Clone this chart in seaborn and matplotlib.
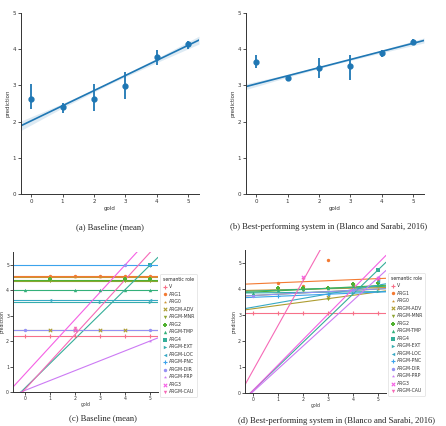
import numpy as np
import matplotlib
matplotlib.use("Agg")
import matplotlib.pyplot as plt
import seaborn as sns

# ---- top panels: mean prediction per gold score with CI, plus regression fit
gold = [0, 1, 2, 3, 4, 5]

base_mean = [2.63, 2.40, 2.63, 2.98, 3.78, 4.13]
base_lo = [2.35, 2.24, 2.30, 2.62, 3.57, 4.00]
base_hi = [3.04, 2.51, 3.04, 3.38, 3.99, 4.24]
base_fit = (2.02, 0.418)  # intercept, slope

best_mean = [3.66, 3.20, 3.47, 3.53, 3.90, 4.21]
best_lo = [3.47, 3.11, 3.20, 3.14, 3.78, 4.13]
best_hi = [3.83, 3.27, 3.76, 3.83, 3.99, 4.28]
best_fit = (3.04, 0.225)

band_x = [-0.32, 1.0, 2.5, 4.0, 5.34]
base_band = [0.13, 0.06, 0.03, 0.06, 0.11]
best_band = [0.08, 0.04, 0.02, 0.04, 0.07]

# ---- bottom panels: per semantic role
roles = ["V", "ARG1", "ARG0", "ARGM-ADV", "ARGM-MNR", "ARG2", "ARGM-TMP", "ARG4",
         "ARGM-EXT", "ARGM-LOC", "ARGM-PNC", "ARGM-DIR", "ARGM-PRP", "ARG3", "ARGM-CAU"]
role_markers = ["+", "o", "*", "x", "v", "P", "^", "s", ">", "<",
                "+", "o", "*", "x", "v"]

c_intercept = [2.2, 4.55, 4.52, 2.42, 4.37, 4.39, 4.02, 0.15, 3.55, 3.6, 5.0, 2.42, 0.06, 0.7, 0.1]
c_slope = [0, 0, 0, 0, 0, 0, 0, 0.97, 0, 0, 0, 0, 0.39, 1.075, 1.08]
c_px = [[0, 1, 2, 3, 4, 5], [1, 2, 3, 4, 5], [1, 2, 3, 4, 5], [1, 2, 3, 4], [1, 4, 5],
        [1, 4, 5], [0, 2, 3, 4, 5], [5], [3, 5], [1, 5], [5], [0, 4, 5], [5], [2], [2]]
c_py = [[2.2] * 6, [4.55] * 5, [4.52] * 5, [2.42] * 4, [4.35, 4.35, 4.35],
        [4.42, 4.42, 4.42], [4.02] * 5, [5.0], [3.55, 3.55], [3.62, 3.6], [5.0],
        [2.42, 5.0, 2.42], [2.0], [2.42], [2.52]]

d_intercept = [3.07, 4.2, 3.95, 3.24, 3.75, 3.88, 3.92, 0.1, 3.85, 3.3, 3.68, 3.75, 0.05, 0.1, 0.87]
d_slope = [0, 0.04, 0.02, 0.13, 0.05, 0.05, 0.035, 0.93, 0.01, 0.17, 0.04, 0.05, 0.88, 0.98, 1.73]
d_px = [[0, 1, 2, 3, 4, 5], [1, 2, 3, 4, 5], [1, 2, 3, 4, 5], [3, 4], [2, 3, 4],
        [1, 2, 3, 4, 5], [0, 1, 2, 3, 4, 5], [5], [4, 5], [3, 5], [1, 3], [0, 4],
        [5], [2, 5], [2]]
d_py = [[3.07] * 6, [4.24, 4.1, 5.13, 4.18, 4.38], [4.0, 3.95, 4.0, 4.1, 4.0],
        [3.68, 4.1], [3.95, 3.63, 4.15], [4.05, 4.05, 4.05, 4.2, 4.25],
        [3.85, 3.95, 4.0, 4.05, 4.1, 4.15], [4.72], [3.85, 3.92], [3.8, 4.3],
        [3.75, 3.8], [3.75, 3.95], [4.45], [4.45, 4.42], [4.4]]

sns.set_style("ticks")
plt.rcParams["font.family"] = ["DejaVu Sans"]
palette = sns.color_palette("husl", len(roles))
blue = sns.color_palette()[0]

fig = plt.figure(figsize=(4.46, 4.26), dpi=100)
W, H = 446.0, 426.0


def add_ax(l, t, r, b):
    return fig.add_axes([l / W, 1 - b / H, (r - l) / W, (b - t) / H])


def style_ax(ax, fs, pad=1.5):
    sns.despine(ax=ax)
    ax.tick_params(labelsize=fs, length=2, width=0.6, pad=pad, colors="#333333")
    for s in ["left", "bottom"]:
        ax.spines[s].set_linewidth(0.7)
        ax.spines[s].set_color("#333333")
    ax.set_xlabel("gold", fontsize=fs, labelpad=pad, color="#333333")
    ax.set_ylabel("prediction", fontsize=fs, labelpad=pad, color="#333333")


def top_panel(ax, mean, lo, hi, fit, band):
    xlim = (-0.32, 5.34)
    xs = np.linspace(xlim[0], xlim[1], 50)
    ys = fit[0] + fit[1] * xs
    bw = np.interp(xs, band_x, band)
    ax.fill_between(xs, ys - bw, ys + bw, color=blue, alpha=0.15, lw=0)
    ax.plot(xs, ys, color=blue, lw=1.2)
    m = np.array(mean)
    ax.errorbar(gold, m, yerr=[m - np.array(lo), np.array(hi) - m], fmt="o",
                color=blue, ms=3.5, elinewidth=1.3, capsize=0)
    ax.set_xlim(xlim)
    ax.set_ylim(0, 5)
    ax.set_xticks(gold)
    ax.set_yticks(range(6))
    style_ax(ax, 4)


def bottom_panel(ax, xlim, icpt, slope, px, py, legend_pos):
    xs = np.array(xlim)
    handles = []
    for i, r in enumerate(roles):
        col = palette[i]
        ax.plot(xs, icpt[i] + slope[i] * xs, color=col, lw=0.8)
        mk = role_markers[i]
        filled = mk not in ("+", "x")
        h = ax.scatter(px[i], py[i], marker=mk, s=6, color=col,
                       linewidths=0.8 if not filled else 0, zorder=3, label=r)
        handles.append(h)
    ax.set_xlim(xlim)
    ax.set_ylim(0, 5.5)
    ax.set_xticks(gold)
    ax.set_yticks(range(6))
    style_ax(ax, 3.3, pad=0.8)
    leg = fig.legend(handles=handles, loc="upper left",
                     bbox_to_anchor=(legend_pos[0] / W, 1 - legend_pos[1] / H),
                     fontsize=3.3, title="semantic role", title_fontsize=3.3,
                     frameon=True, handletextpad=0.3, labelspacing=0.55,
                     borderpad=0.5, handlelength=1.0, markerscale=1.0)
    leg.get_frame().set_linewidth(0.4)
    leg.get_frame().set_edgecolor("#cccccc")
    for t in leg.get_texts():
        t.set_color("#333333")


ax_a = add_ax(21, 13, 199, 194)
top_panel(ax_a, base_mean, base_lo, base_hi, base_fit, base_band)
ax_b = add_ax(246, 13, 424, 194)
top_panel(ax_b, best_mean, best_lo, best_hi, best_fit, best_band)

ax_c = add_ax(13, 252, 158, 392)
bottom_panel(ax_c, (-0.47, 5.3), c_intercept, c_slope, c_px, c_py, (158, 272))
ax_d = add_ax(245, 250, 386, 393)
bottom_panel(ax_d, (-0.32, 5.3), d_intercept, d_slope, d_px, d_py, (386, 271))

cap = dict(fontsize=6.2, family=["Liberation Serif"], ha="center", va="center")
fig.text(110 / W, 1 - 227 / H, "(a) Baseline (mean)", **cap)
fig.text(329 / W, 1 - 227 / H, "(b) Best-performing system in (Blanco and Sarabi, 2016)", **cap)
fig.text(103 / W, 1 - 418 / H, "(c) Baseline (mean)", **cap)
fig.text(336 / W, 1 - 421 / H, "(d) Best-performing system in (Blanco and Sarabi, 2016)", **cap)

fig.savefig("out.png", dpi=100)
